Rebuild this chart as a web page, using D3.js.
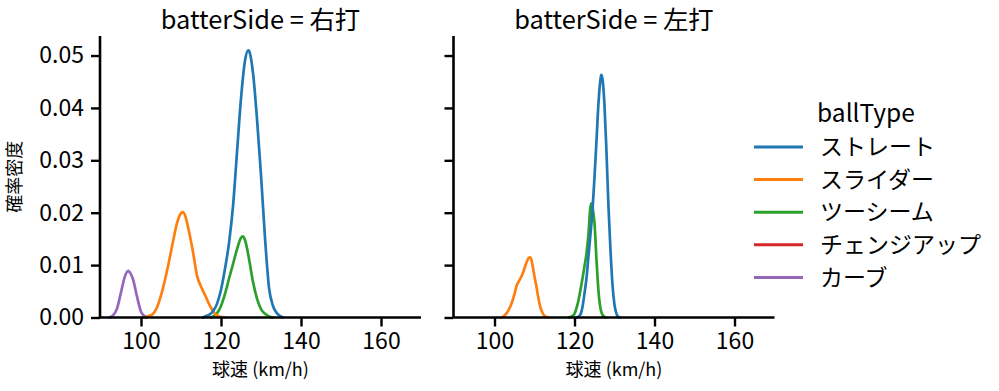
<!DOCTYPE html>
<html>
<head>
<meta charset="utf-8">
<script src="https://cdn.jsdelivr.net/npm/d3@7"></script>
<style>
  html, body { margin: 0; padding: 0; background: #ffffff; }
  svg { display: block; }
  text { font-family: "Noto Sans CJK JP", "Noto Sans", sans-serif; fill: #000; }
</style>
</head>
<body>
<svg id="chart" width="999" height="391"></svg>
<script>
// ---------- data ----------
const panelTitles = ["batterSide = 右打", "batterSide = 左打"];
const ballTypes = ["ストレート", "スライダー", "ツーシーム", "チェンジアップ", "カーブ"];
const ballColors = ["#1f77b4", "#ff7f0e", "#2ca02c", "#d62728", "#9467bd"];
const xTicks = [100, 120, 140, 160];
const yTicks = [0, 0.01, 0.02, 0.03, 0.04, 0.05];
const xLabel = "球速 (km/h)";
const yLabel = "確率密度";
const legendTitle = "ballType";

// batterSide = 右打  ([speed km/h, density])
const rhStraight = [[115.5,0],[116,0.0002],[117,0.0005],[118,0.0012],[119,0.0026],[120,0.0053],[121,0.0093],[122,0.0142],[123,0.0212],[124,0.0315],[125,0.0418],[126,0.0490],[126.8,0.0510],[127,0.0509],[128,0.0467],[129,0.0379],[130,0.0272],[131,0.0152],[132,0.0057],[133,0.0022],[134,0.0008],[135,0.0002],[135.5,0]];
const rhSlider = [[100.5,0],[101,0.0001],[102,0.0003],[103,0.0007],[104,0.0019],[105,0.0042],[106,0.0072],[107,0.0107],[108,0.0145],[109,0.0180],[110,0.0199],[110.5,0.0201],[111,0.0195],[112,0.0164],[113,0.0125],[114,0.0080],[115,0.0059],[116,0.0043],[117,0.0026],[118,0.0012],[119,0.0004],[120,0.0001],[121,0]];
const rhTwoSeam = [[117.5,0],[118,0.0002],[119,0.0008],[120,0.0022],[121,0.0045],[122,0.0074],[123,0.0102],[124,0.0130],[125,0.0152],[125.5,0.0155],[126,0.0148],[127,0.0112],[128,0.0068],[129,0.0036],[130,0.0016],[131,0.0007],[132,0.0002],[133,0]];
const rhChangeup = [];
const rhCurve = [[92,0],[93,0.0004],[94,0.0017],[95,0.0048],[96,0.0079],[96.8,0.0089],[97,0.0088],[98,0.0073],[99,0.0040],[100,0.0011],[101,0.0002],[101.5,0]];

// batterSide = 左打
const lhStraight = [[120.5,0],[121,0.0002],[121.5,0.0006],[122,0.0020],[122.5,0.0046],[123,0.0075],[123.5,0.0118],[124,0.0160],[124.5,0.0205],[125,0.0268],[125.5,0.0338],[126,0.0410],[126.5,0.0455],[126.7,0.0463],[127,0.0455],[127.5,0.0405],[128,0.0315],[128.5,0.0211],[129,0.0128],[129.5,0.0062],[130,0.0024],[130.5,0.0007],[131,0.0001],[131.5,0]];
const lhSlider = [[101.5,0],[102,0.0001],[102.5,0.0004],[103,0.0008],[103.5,0.0014],[104,0.0022],[104.5,0.0032],[105,0.0045],[105.5,0.0060],[106,0.0068],[106.5,0.0075],[107,0.0083],[107.5,0.0094],[108,0.0105],[108.5,0.0113],[109,0.0115],[109.5,0.0100],[110,0.0078],[110.5,0.0058],[111,0.0036],[111.5,0.0019],[112,0.0009],[112.5,0.0003],[113,0.0001],[113.5,0]];
const lhTwoSeam = [[118.5,0],[119,0.0001],[119.5,0.0003],[120,0.0007],[120.5,0.0018],[121,0.0033],[121.5,0.0053],[122,0.0075],[122.5,0.0098],[123,0.0122],[123.5,0.0160],[124,0.0212],[124.3,0.0218],[124.7,0.0200],[125,0.0180],[125.5,0.0110],[126,0.0050],[126.5,0.0017],[127,0.0005],[127.5,0.0001],[128,0]];
const lhChangeup = [];
const lhCurve = [];

const panelSeries = [
  [rhStraight, rhSlider, rhTwoSeam, rhChangeup, rhCurve],
  [lhStraight, lhSlider, lhTwoSeam, lhChangeup, lhCurve]
];

// ---------- layout ----------
const svg = d3.select("#chart");
const panelLeft = [100, 453.5];
const panelWidth = 321;
const plotTop = 36, plotBottom = 317.5;
const xDomain = [89.75, 170];
const yDomain = [0, 0.05373];

const y = d3.scaleLinear().domain(yDomain).range([plotBottom, plotTop]);

panelSeries.forEach((seriesList, p) => {
  const x = d3.scaleLinear().domain(xDomain).range([panelLeft[p], panelLeft[p] + panelWidth]);
  const g = svg.append("g");

  // curves (first hue drawn on top)
  const line = d3.line().x(d => x(d[0])).y(d => y(d[1])).curve(d3.curveMonotoneX);
  for (let i = seriesList.length - 1; i >= 0; i--) {
    if (!seriesList[i].length) continue;
    g.append("path")
      .datum(seriesList[i])
      .attr("fill", "none")
      .attr("stroke", ballColors[i])
      .attr("stroke-width", 2.7)
      .attr("stroke-linejoin", "round")
      .attr("stroke-linecap", "round")
      .attr("d", line);
  }

  // x axis
  const xAxis = d3.axisBottom(x).tickValues(xTicks).tickSize(9).tickPadding(6).tickFormat(d3.format("d"));
  const gx = g.append("g").attr("transform", `translate(0,${plotBottom})`).call(xAxis);
  gx.select(".domain").attr("stroke", "#000").attr("stroke-width", 2.6)
    .attr("d", `M${panelLeft[p]},0H${panelLeft[p] + panelWidth}`);
  gx.selectAll(".tick line").attr("stroke", "#000").attr("stroke-width", 2.4);
  gx.selectAll(".tick text").attr("font-size", 23).attr("font-family", '"Noto Sans CJK JP", sans-serif').attr("fill", "#000");

  // y axis
  const yAxis = d3.axisLeft(y).tickValues(yTicks).tickSize(9).tickPadding(7)
    .tickFormat(p === 0 ? d3.format(".2f") : () => "");
  const gy = g.append("g").attr("transform", `translate(${panelLeft[p]},0)`).call(yAxis);
  gy.select(".domain").attr("stroke", "#000").attr("stroke-width", 2.6)
    .attr("d", `M0,${plotTop}V${plotBottom}`);
  gy.selectAll(".tick line").attr("stroke", "#000").attr("stroke-width", 2.4);
  gy.selectAll(".tick text").attr("font-size", 23).attr("font-family", '"Noto Sans CJK JP", sans-serif').attr("fill", "#000");

  // title
  g.append("text")
    .attr("x", panelLeft[p] + panelWidth / 2)
    .attr("y", 29)
    .attr("text-anchor", "middle")
    .attr("font-size", 25.4)
    .text(panelTitles[p]);

  // x label
  g.append("text")
    .attr("x", panelLeft[p] + panelWidth / 2)
    .attr("y", 376)
    .attr("text-anchor", "middle")
    .attr("font-size", 18)
    .text(xLabel);
});

// y label
svg.append("text")
  .attr("transform", `translate(21,${(plotTop + plotBottom) / 2}) rotate(-90)`)
  .attr("text-anchor", "middle")
  .attr("font-size", 18)
  .text(yLabel);

// legend
const legend = svg.append("g");
legend.append("text")
  .attr("x", 866).attr("y", 122)
  .attr("text-anchor", "middle")
  .attr("font-size", 24.5)
  .text(legendTitle);
ballTypes.forEach((name, i) => {
  const cy = 147 + i * 32.6;
  legend.append("line")
    .attr("x1", 754).attr("x2", 803)
    .attr("y1", cy).attr("y2", cy)
    .attr("stroke", ballColors[i]).attr("stroke-width", 3);
  legend.append("text")
    .attr("x", 820).attr("y", cy)
    .attr("dy", "0.36em")
    .attr("font-size", 23)
    .text(name);
});
</script>
</body>
</html>
